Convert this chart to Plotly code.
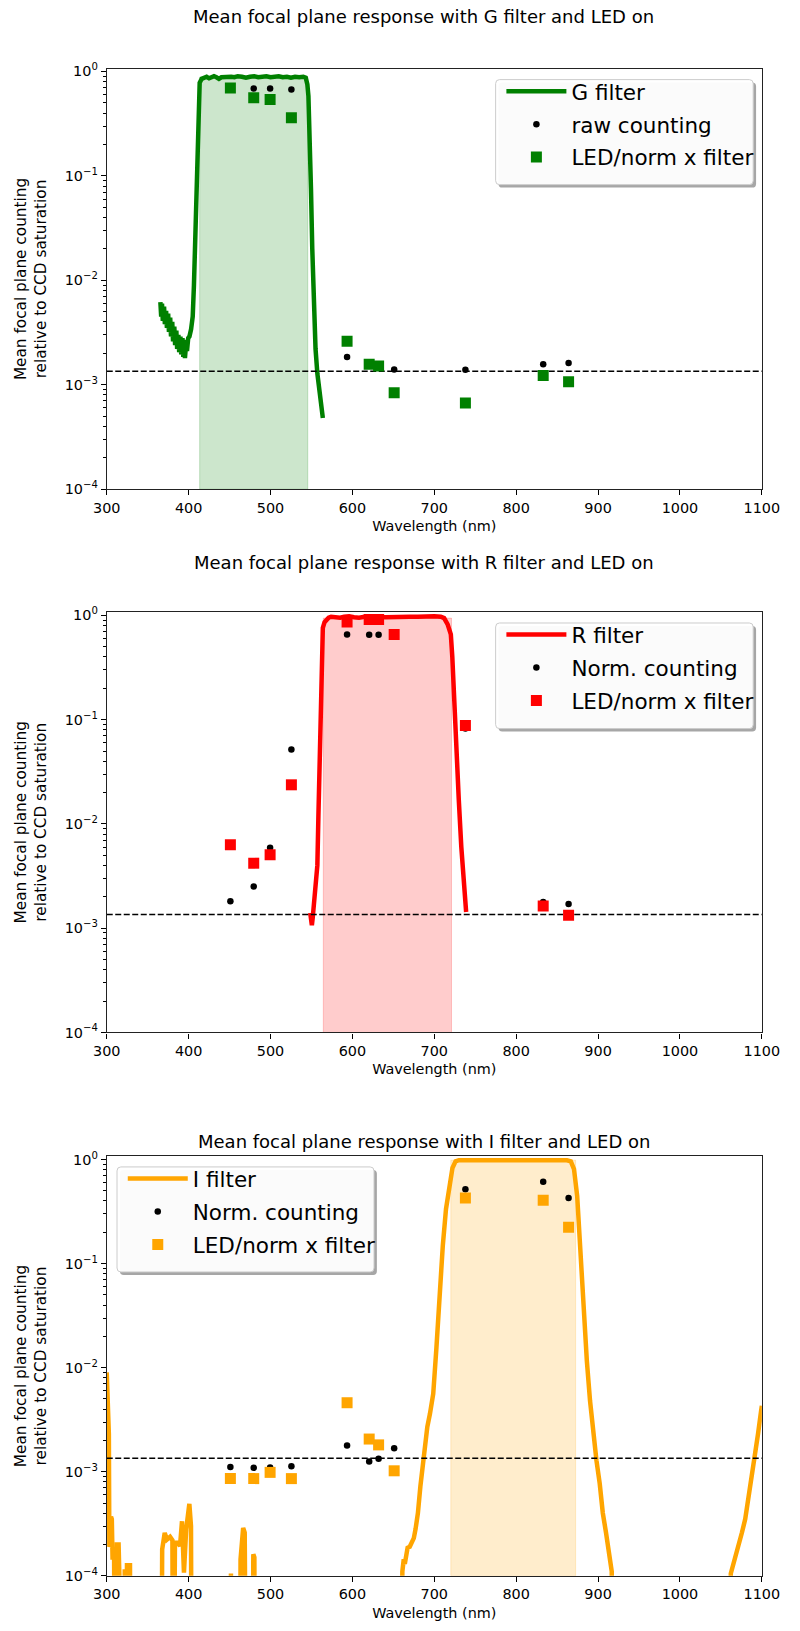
import plotly.graph_objects as go

FIG_W, FIG_H = 800, 1631
FONT = "DejaVu Sans"

THRESHOLD = 1.35e-3          # dashed reference level
X_RANGE = [300, 1100]
X_TICKS = [300, 400, 500, 600, 700, 800, 900, 1000, 1100]
Y_TICKS = [1e-4, 1e-3, 1e-2, 1e-1, 1e0]
Y_TICK_TEXT = ["10<sup>\u22124</sup>", "10<sup>\u22123</sup>", "10<sup>\u22122</sup>",
               "10<sup>\u22121</sup>", "10<sup>0</sup>"]
Y_MINOR = [k * 10.0 ** e for e in range(-4, 0) for k in range(2, 10)]

# LED central wavelengths (nm)
led_nm = [451, 479.5, 499.5, 525.5, 593.5, 620.5, 632, 651, 738, 833, 864]

# ---------------- G filter ----------------
g_filter_nm = [365.5, 366.5, 367.5, 368.5, 370, 371, 372.5, 373.5, 375, 376, 377.5, 378.5,
               380, 381, 382.5, 383.5, 385, 386, 387.5, 388.5, 390, 391, 392.5, 393.5,
               394.5, 395.5, 397, 398, 399.5, 401, 403, 405, 406.5, 407.5, 409, 410.3,
               411.5, 412.5, 413.5, 416, 419, 422, 425, 428, 431, 434, 437, 440, 444,
               448, 452, 456, 460, 465, 470, 475, 480, 485, 490, 495, 500, 505, 510,
               515, 520, 525, 530, 535, 540, 543, 545, 546.3, 547.5, 549.4, 551, 553.3,
               555, 557.2, 559, 561.1, 562.5, 563.9]
g_filter_T = [6.2e-3, 4.5e-3, 6.0e-3, 4.1e-3, 5.6e-3, 3.8e-3, 5.1e-3, 3.5e-3, 4.8e-3, 3.2e-3,
              4.4e-3, 2.9e-3, 4.0e-3, 2.6e-3, 3.6e-3, 2.4e-3, 3.3e-3, 2.2e-3, 3.0e-3, 2.05e-3,
              2.9e-3, 1.95e-3, 2.8e-3, 1.85e-3, 2.7e-3, 1.8e-3, 2.5e-3, 2.1e-3, 2.8e-3, 2.9e-3,
              3.4e-3, 4.5e-3, 9e-3, 0.018, 0.06, 0.156, 0.35, 0.6, 0.78, 0.85, 0.87, 0.89,
              0.86, 0.88, 0.9, 0.88, 0.85, 0.88, 0.89, 0.88, 0.89, 0.88, 0.9, 0.89, 0.87,
              0.89, 0.9, 0.88, 0.89, 0.9, 0.88, 0.89, 0.9, 0.88, 0.89, 0.87, 0.89, 0.88,
              0.89, 0.87, 0.75, 0.58, 0.3, 0.076, 0.02, 4.1e-3, 2.2e-3, 1.28e-3, 1.0e-3,
              7.7e-4, 6.5e-4, 4.8e-4]
g_band = [413.5, 545.5]
g_band_top = 0.885
g_counts = [0.69, 0.687, 0.687, 0.671, 1.85e-3, 1.55e-3, 1.49e-3, 1.40e-3, 1.39e-3, 1.57e-3, 1.62e-3]
g_led_filter = [0.695, 0.56, 0.54, 0.361, 2.61e-3, 1.57e-3, 1.51e-3, 8.4e-4, 6.7e-4, 1.23e-3, 1.07e-3]

# ---------------- R filter ----------------
r_filter_nm = [548.5, 549.5, 550.5, 551.5, 552.5, 554, 556, 557.2, 558.5, 559.9, 561, 561.9,
               563, 563.9, 566, 568, 571, 574, 580, 585, 590, 596, 602, 608, 615, 622, 630,
               640, 650, 660, 670, 680, 690, 700, 708, 712, 716.3, 720.2, 722, 724.1, 727,
               729.9, 733, 735.8, 737.5, 738.9]
r_filter_T = [1.4e-3, 1.15e-3, 1.07e-3, 1.25e-3, 1.5e-3, 1.9e-3, 2.8e-3, 4.0e-3, 0.012, 0.035,
              0.09, 0.22, 0.5, 0.76, 0.86, 0.9, 0.95, 0.97, 0.96, 0.95, 0.97, 0.98, 0.96, 0.95,
              0.97, 0.98, 0.97, 0.96, 0.97, 0.98, 0.97, 0.97, 0.98, 0.98, 0.97, 0.94, 0.82,
              0.656, 0.4, 0.152, 0.05, 0.0171, 6e-3, 2.76e-3, 1.9e-3, 1.43e-3]
r_band = [564.5, 721]
r_band_top = 0.94
r_counts = [1.81e-3, 2.51e-3, 5.89e-3, 0.0517, 0.656, 0.65, 0.65, 0.66, 0.082, 1.78e-3, 1.71e-3]
r_led_filter = [6.3e-3, 4.2e-3, 5.06e-3, 0.0237, 0.864, 0.91, 0.91, 0.656, 0.0877, 1.63e-3, 1.33e-3]

# ---------------- I filter ----------------
i_filter_nm = [300, 300.6, 301.3, 302, 302.6, 303.2, 304.2, 305.2, 306.2, 307.1, 309, 310.2,
               311.8, 312.4, 314.5, 315.2, 321.5, 322, 323.5, 324, 324.7, 328.4, 329,
               366.5, 367.7, 370.8, 373.5, 377.4, 380.2, 381.4, 383.3, 387.2, 389.5, 391.9,
               394.3, 397, 400.9, 402.9, 404, 451.2, 451.7, 452.3, 462.8, 463.4, 466.6,
               468.5, 470.5, 477.6, 479, 480.3, 481,
               660, 661, 662.7, 664, 665.5, 667.4, 670, 673.3, 675, 677.1, 680, 683, 686.2,
               688.9, 691.5, 694.7, 698.7, 702.6, 706.5, 710.4, 714.3, 718.2, 722.2, 726,
               730, 750, 775, 800, 825, 850, 862, 866.7, 870.6, 874.5, 878.4, 882.3, 886.3,
               890.2, 894, 898, 902, 905.8, 909.7, 913.6, 916.7, 918,
               1061, 1062.1, 1066, 1069.9, 1075.7, 1079.7, 1083.6, 1087.5, 1091.4, 1095.3,
               1099.2, 1100]
i_filter_T = [9.0e-3, 6.5e-3, 4.3e-3, 3.8e-3, 2.3e-3, 1.9e-4, 2.0e-4, 3.7e-4, 3.5e-4, 1.5e-4,
              1.5e-4, 1e-6, 1e-6, 2.0e-4, 2.0e-4, 1e-6, 1e-6, 1.1e-4, 1.1e-4, 1e-6, 1.26e-4,
              1.26e-4, 1e-6,
              1e-6, 1.79e-4, 2.58e-4, 2.23e-4, 2.37e-4, 2.2e-4, 1e-6, 2.07e-4, 2.07e-4, 1.93e-4,
              3.34e-4, 1.07e-4, 2.78e-4, 4.91e-4, 3.0e-4, 1e-6, 1e-6, 1.05e-4, 1e-6, 1e-6,
              1.44e-4, 2.88e-4, 2.6e-4, 1e-6, 1e-6, 1.61e-4, 1.5e-4, 1e-6,
              1e-6, 1.1e-4, 1.44e-4, 1.3e-4, 1.6e-4, 1.86e-4, 1.9e-4, 2.16e-4, 2.3e-4, 2.8e-4,
              4.0e-4, 7.2e-4, 1.29e-3, 2.0e-3, 2.7e-3, 3.6e-3, 5.6e-3, 0.0155, 0.05, 0.149,
              0.334, 0.557, 0.83, 0.96, 0.985, 0.985, 0.985, 0.985, 0.985, 0.985, 0.985, 0.96,
              0.81, 0.447, 0.129, 0.037, 0.0116, 4.8e-3, 2.3e-3, 1.29e-3, 7.7e-4, 4.0e-4,
              2.6e-4, 1.67e-4, 1.1e-4, 1e-6,
              1e-6, 1.05e-4, 1.34e-4, 1.8e-4, 2.6e-4, 3.5e-4, 5.4e-4, 9e-4, 1.5e-3, 2.3e-3,
              3.9e-3, 4.3e-3]
i_band = [720.2, 872.6]
i_band_top = 0.985
i_counts = [1.11e-3, 1.09e-3, 1.1e-3, 1.13e-3, 1.79e-3, 1.25e-3, 1.33e-3, 1.68e-3, 0.518, 0.611, 0.428]
i_led_filter = [8.58e-4, 8.58e-4, 9.85e-4, 8.58e-4, 4.6e-3, 2.06e-3, 1.81e-3, 1.02e-3, 0.428, 0.407, 0.223]


def px_x(px):
    return px / FIG_W


def px_y(py):
    return 1 - py / FIG_H


def rounded_box(x0, y0, x1, y1, r=4):
    pts = [
        ("M", x0 + r, y0), ("L", x1 - r, y0), ("Q", x1, y0, x1, y0 + r),
        ("L", x1, y1 - r), ("Q", x1, y1, x1 - r, y1), ("L", x0 + r, y1),
        ("Q", x0, y1, x0, y1 - r), ("L", x0, y0 + r), ("Q", x0, y0, x0 + r, y0),
    ]
    out = []
    for p in pts:
        cmd, coords = p[0], p[1:]
        vals = []
        for i in range(0, len(coords), 2):
            vals.append(f"{px_x(coords[i]):.5f},{px_y(coords[i + 1]):.5f}")
        out.append(cmd + " ".join(vals))
    return " ".join(out) + " Z"


AX_LEFT, AX_RIGHT = 96.6, 779.0

panels = [
    dict(name="G", color="#008000", fill="rgba(0,128,0,0.2)",
         filt_x=g_filter_nm, filt_y=g_filter_T, band=g_band, band_top=g_band_top,
         counts=g_counts, led=g_led_filter, count_label="raw counting",
         top=62.3, bottom=486.7, ytop=0.026, title_y=10,
         box=(501.7, 73.3, 770.0, 179.3)),
    dict(name="R", color="#FF0000", fill="rgba(255,0,0,0.2)",
         filt_x=r_filter_nm, filt_y=r_filter_T, band=r_band, band_top=r_band_top,
         counts=r_counts, led=r_led_filter, count_label="Norm. counting",
         top=610.7, bottom=1035.0, ytop=0.031, title_y=561,
         box=(501.7, 621.7, 770.0, 728.3)),
    dict(name="I", color="#FFA500", fill="rgba(255,165,0,0.2)",
         filt_x=i_filter_nm, filt_y=i_filter_T, band=i_band, band_top=i_band_top,
         counts=i_counts, led=i_led_filter, count_label="Norm. counting",
         top=1160.0, bottom=1583.3, ytop=0.031, title_y=1145,
         box=(107.3, 1170.7, 375.0, 1276.7)),
]

fig = go.Figure()
layout = dict(
    width=FIG_W, height=FIG_H, autosize=False,
    margin=dict(l=0, r=0, t=0, b=0),
    paper_bgcolor="white", plot_bgcolor="white",
    font=dict(family=FONT, color="black", size=14.4),
    showlegend=True,
)
shapes = []
annotations = []
ITEM_W = 60

for i, p in enumerate(panels):
    n = "" if i == 0 else str(i + 1)
    xa, ya = "x" + n, "y" + n
    leg = "legend" + n

    # pass band
    lo, hi = p["band"]
    fig.add_trace(go.Scatter(
        x=[lo, lo, hi, hi, lo], y=[1e-4, p["band_top"], p["band_top"], 1e-4, 1e-4],
        mode="lines", fill="toself", fillcolor=p["fill"],
        line=dict(color=p["fill"], width=1), hoverinfo="skip",
        showlegend=False, xaxis=xa, yaxis=ya))
    # filter transmission
    fig.add_trace(go.Scatter(
        x=p["filt_x"], y=p["filt_y"], mode="lines", name=p["name"] + " filter",
        line=dict(color=p["color"], width=4.5), legend=leg,
        legendgroup=p["name"] + "a", xaxis=xa, yaxis=ya))
    # threshold
    fig.add_trace(go.Scatter(
        x=X_RANGE, y=[THRESHOLD, THRESHOLD], mode="lines",
        line=dict(color="black", width=1.5, dash="6px,2.5px"),
        showlegend=False, hoverinfo="skip", xaxis=xa, yaxis=ya))
    # counts
    fig.add_trace(go.Scatter(
        x=led_nm, y=p["counts"], mode="markers", name=p["count_label"],
        marker=dict(symbol="circle", size=6.5, color="black"), legend=leg,
        legendgroup=p["name"] + "b", xaxis=xa, yaxis=ya))
    # LED / norm x filter
    fig.add_trace(go.Scatter(
        x=led_nm, y=p["led"], mode="markers", name="LED/norm x filter",
        marker=dict(symbol="square", size=11, color=p["color"], line=dict(width=0)),
        legend=leg, legendgroup=p["name"] + "c", xaxis=xa, yaxis=ya))

    ydom = [px_y(p["bottom"]), px_y(p["top"])]
    layout["xaxis" + n] = dict(
        domain=[px_x(AX_LEFT), px_x(AX_RIGHT)], anchor=ya, range=X_RANGE,
        tickmode="array", tickvals=X_TICKS, ticks="outside", ticklen=5,
        tickwidth=1, tickcolor="black", showline=True, mirror=True,
        linecolor="#222222", linewidth=1.1, showgrid=False, zeroline=False,
        tickfont=dict(size=14.4),
        title=dict(text="Wavelength (nm)", font=dict(size=14.4), standoff=6))
    layout["yaxis" + n] = dict(
        domain=ydom, anchor=xa, type="log", range=[-4, p["ytop"]],
        tickmode="array", tickvals=Y_TICKS, ticktext=Y_TICK_TEXT,
        ticks="outside", ticklen=5, tickwidth=1, tickcolor="black",
        minor=dict(tickmode="array", tickvals=Y_MINOR, ticks="outside",
                   ticklen=2.5, tickwidth=0.8, tickcolor="black", showgrid=False),
        showline=True, mirror=True, linecolor="#222222", linewidth=1.1,
        showgrid=False, zeroline=False, tickfont=dict(size=14.4),
        title=dict(text="Mean focal plane counting<br>relative to CCD saturation",
                   font=dict(size=15.3), standoff=14))

    bx0, by0, bx1, by1 = p["box"]
    shapes.append(dict(type="path", xref="paper", yref="paper", layer="above",
                       path=rounded_box(bx0 + 3, by0 + 3, bx1 + 3, by1 + 3),
                       fillcolor="rgba(77,77,77,0.5)", line=dict(width=0)))
    shapes.append(dict(type="path", xref="paper", yref="paper", layer="above",
                       path=rounded_box(bx0, by0, bx1, by1),
                       fillcolor="rgba(255,255,255,0.95)",
                       line=dict(color="#cccccc", width=1)))
    layout[leg] = dict(
        x=px_x(bx0 + 71 - (ITEM_W + 5)), y=px_y(by0 - 9),
        xanchor="left", yanchor="top", bgcolor="rgba(0,0,0,0)", borderwidth=0,
        font=dict(size=21.5, family=FONT), itemwidth=ITEM_W,
        tracegroupgap=2, traceorder="grouped")

    annotations.append(dict(
        text=f"Mean focal plane response with {p['name']} filter and LED on",
        xref="paper", yref="paper", x=px_x(427), y=px_y(p["title_y"]),
        xanchor="center", yanchor="middle", showarrow=False,
        font=dict(size=18, family=FONT)))

layout["shapes"] = shapes
layout["annotations"] = annotations
fig.update_layout(**layout)
fig.write_html("out.html")
